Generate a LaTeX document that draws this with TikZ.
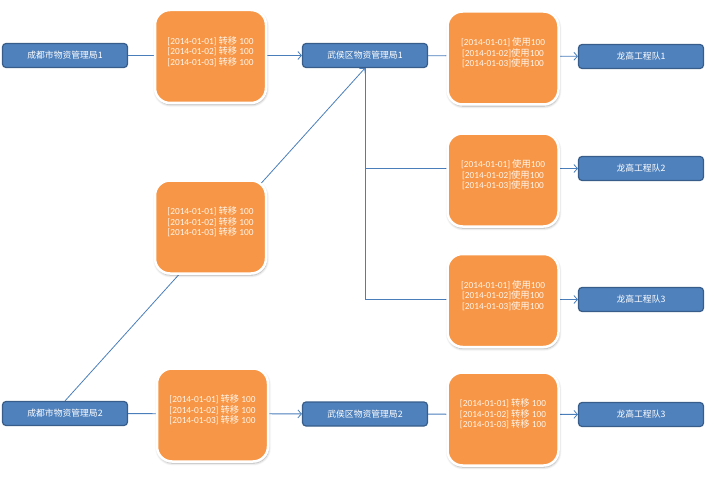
\documentclass[tikz,border=0pt]{standalone}
\usepackage{fontspec}
\setmainfont{Carlito}
\newfontfamily\cjk{Noto Sans CJK SC}
\usetikzlibrary{arrows.meta,shadows.blur,backgrounds}

\definecolor{unitblue}{HTML}{4F81BD}
\definecolor{unitedge}{HTML}{385D8A}
\definecolor{recorange}{HTML}{F79646}
\definecolor{flowline}{HTML}{4A7EBB}
\definecolor{rectext}{HTML}{FFF6EC}

\tikzset{
  unit/.style={rectangle, rounded corners=3.5pt, fill=unitblue, draw=unitedge,
    line width=1.2pt, minimum width=125pt, minimum height=24pt, inner sep=0pt,
    text=white, font=\cjk\fontsize{8.8}{10}\selectfont},
  record/.style={rectangle, rounded corners=15pt, fill=recorange, draw=white,
    line width=2.5pt, minimum width=111pt, minimum height=93pt, inner sep=0pt,
    blur shadow={shadow xshift=0.6pt, shadow yshift=-1.6pt, shadow blur steps=6,
      shadow blur radius=2.5pt, shadow opacity=35}},
  rectxt/.style={align=center, text=rectext, inner sep=0pt,
    font=\fontsize{9.3}{10.6}\selectfont},
  flow/.style={draw=flowline, line width=0.8pt,
    -{Straight Barb[length=3.5pt,width=8pt,line width=0.8pt]}}
}

% one line of a record: transfer, or use (with or without the space)
\newcommand{\moveday}[1]{{[2014-01-0#1] {\cjk 转移} 100}}
\newcommand{\useday}[2]{{[2014-01-0#1]#2{\cjk 使用}100}}

\begin{document}
\begin{tikzpicture}[x=1pt,y=-1pt]
\useasboundingbox (0,0) rectangle (706,492);

% organisations and teams
\node[unit] (c1) at (65,55.5) {成都市物资管理局1};
\node[unit] (c2) at (65,413.5) {成都市物资管理局2};
\node[unit] (w1) at (365,55.5) {武侯区物资管理局1};
\node[unit] (w2) at (365,414) {武侯区物资管理局2};
\node[unit] (l1) at (641,56.5) {龙高工程队1};
\node[unit] (l2) at (641,168.5) {龙高工程队2};
\node[unit] (l3) at (641,299.5) {龙高工程队3};
\node[unit] (l4) at (641,414.5) {龙高工程队3};

% transaction records
\node[record, label={[rectxt, name=r1t, yshift=5pt]center:{\moveday1\\\moveday2\\\moveday3}}] (r1) at (210.5,56.5) {};
\node[record, label={[rectxt, name=r2t, yshift=5pt]center:{\moveday1\\\moveday2\\\moveday3}}] (r2) at (210.5,227) {};
\node[record, label={[rectxt, name=r3t, yshift=5pt]center:{\moveday1\\\moveday2\\\moveday3}}] (r3) at (212.5,415) {};
\node[record, label={[rectxt, name=u1t, yshift=5pt]center:{\useday1{ }\\\useday2{}\\\useday3{}}}] (u1) at (503,58) {};
\node[record, label={[rectxt, name=u2t, yshift=5pt]center:{\useday1{ }\\\useday2{}\\\useday3{}}}] (u2) at (503,180) {};
\node[record, label={[rectxt, name=u3t, yshift=5pt]center:{\useday1{ }\\\useday2{}\\\useday3{}}}] (u3) at (503,300.5) {};
\node[record, label={[rectxt, name=u4t, yshift=5pt]center:{\moveday1\\\moveday2\\\moveday3}}] (u4) at (503,419) {};

% flows run behind the record boxes
\begin{scope}[on background layer]
  \draw[flow] (c1) -- (w1);
  \draw[flow] (c2.north) -- (w1.south);
  \draw[flow] (w1) -- (l1);
  \draw[flow, line width=1pt] (w1.south) |- (l2.west);
  \draw[flow, line width=1pt] (w1.south) |- (l3.west);
  \draw[flow] (c2) -- (w2);
  \draw[flow] (w2) -- (l4);
\end{scope}
\end{tikzpicture}
\end{document}
